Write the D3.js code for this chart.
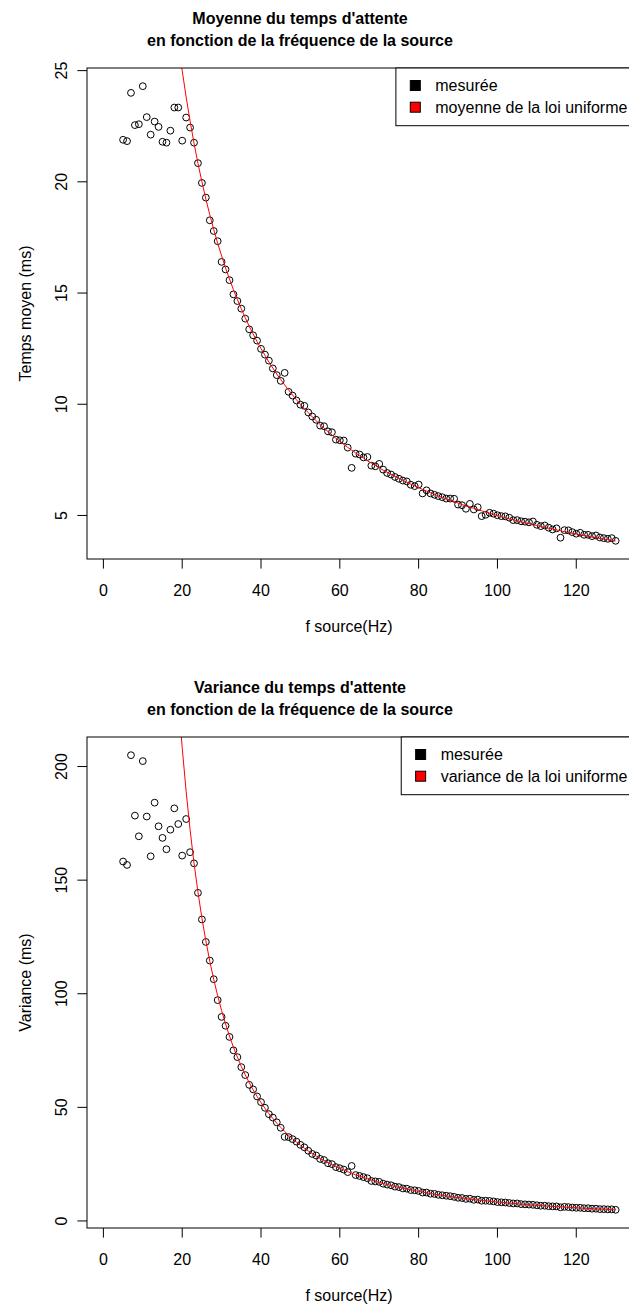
<!DOCTYPE html>
<html>
<head>
<meta charset="utf-8">
<script src="https://cdn.jsdelivr.net/npm/d3@7"></script>
<style>
  body { margin: 0; background: #fff; }
  svg text { font-family: "Liberation Sans", Arial, Helvetica, sans-serif; fill: #000; }
</style>
</head>
<body>
<script>
// fréquences de la source (Hz) : 1..130 pour la courbe théorique, 5..130 pour les mesures
const freqs = [1,2,3,4,5,6,7,8,9,10,11,12,13,14,15,16,17,18,19,20,21,22,23,24,25,26,27,28,29,30,
  31,32,33,34,35,36,37,38,39,40,41,42,43,44,45,46,47,48,49,50,51,52,53,54,55,56,57,58,59,60,
  61,62,63,64,65,66,67,68,69,70,71,72,73,74,75,76,77,78,79,80,81,82,83,84,85,86,87,88,89,90,
  91,92,93,94,95,96,97,98,99,100,101,102,103,104,105,106,107,108,109,110,111,112,113,114,115,
  116,117,118,119,120,121,122,123,124,125,126,127,128,129,130];
const measuredFreqs = freqs.slice(4);

// temps moyen mesuré (ms)
const meanMeasured = [21.89,21.83,24.0,22.55,22.59,24.30,22.91,22.12,22.71,22.47,21.80,21.76,22.30,23.34,23.34,
  21.85,22.89,22.44,21.76,20.84,19.95,19.29,18.27,17.79,17.33,16.40,16.06,15.58,14.94,14.64,14.30,13.85,13.37,
  13.10,12.86,12.49,12.23,11.96,11.61,11.31,11.05,11.41,10.56,10.39,10.17,9.98,9.93,9.63,9.45,9.30,9.04,9.01,
  8.78,8.74,8.41,8.38,8.37,8.05,7.14,7.78,7.74,7.61,7.63,7.24,7.21,7.32,7.06,6.91,6.84,6.73,6.65,6.57,6.53,
  6.38,6.32,6.39,5.99,6.13,5.99,5.93,5.87,5.82,5.76,5.76,5.75,5.49,5.46,5.30,5.52,5.27,5.37,4.97,5.03,5.12,
  5.08,5.01,4.97,4.96,4.90,4.79,4.79,4.74,4.72,4.69,4.73,4.58,4.52,4.55,4.45,4.37,4.42,4.00,4.34,4.33,4.25,
  4.18,4.22,4.13,4.13,4.07,4.10,4.01,3.98,3.95,3.98,3.86];

// moyenne de la loi uniforme (ms)
const meanUniform = [500,250,166.67,125,100,83.33,71.43,62.5,55.56,50,45.45,41.67,38.46,35.71,33.33,31.25,
  29.41,27.78,26.32,25,23.81,22.73,21.74,20.83,20,19.23,18.52,17.86,17.24,16.67,16.13,15.63,15.15,14.71,14.29,
  13.89,13.51,13.16,12.82,12.5,12.2,11.9,11.63,11.36,11.11,10.87,10.64,10.42,10.2,10,9.8,9.62,9.43,9.26,9.09,
  8.93,8.77,8.62,8.47,8.33,8.2,8.06,7.94,7.81,7.69,7.58,7.46,7.35,7.25,7.14,7.04,6.94,6.85,6.76,6.67,6.58,
  6.49,6.41,6.33,6.25,6.17,6.1,6.02,5.95,5.88,5.81,5.75,5.68,5.62,5.56,5.49,5.43,5.38,5.32,5.26,5.21,5.15,
  5.1,5.05,5,4.95,4.9,4.85,4.81,4.76,4.72,4.67,4.63,4.59,4.55,4.5,4.46,4.42,4.39,4.35,4.31,4.27,4.24,4.2,
  4.17,4.13,4.1,4.07,4.03,4,3.97,3.94,3.91,3.88,3.85];

// variance mesurée (ms)
const varMeasured = [158.2,156.7,205.0,178.4,169.3,202.4,178.0,160.5,184.1,173.7,168.6,163.6,172.2,181.6,174.7,
  160.8,176.9,162.3,157.4,144.4,132.7,122.8,114.6,106.4,97.2,89.8,85.9,81.0,75.1,72.1,67.7,64.2,59.9,57.9,54.8,
  52.3,49.8,47.0,45.5,43.4,41.0,37.0,36.9,36.0,34.9,33.5,32.4,30.9,29.5,28.8,27.3,26.8,25.4,25.0,23.7,23.2,
  22.6,21.5,24.2,20.2,19.8,19.3,18.8,17.6,17.4,17.2,16.4,16.0,15.7,15.1,14.9,14.3,14.2,13.6,13.5,13.2,12.5,
  12.5,12.0,11.9,11.5,11.3,11.1,10.9,10.6,10.2,10.1,9.7,9.8,9.3,9.4,8.9,8.9,8.8,8.6,8.3,8.2,8.1,7.9,7.7,7.7,
  7.4,7.3,7.2,7.1,6.9,6.7,6.7,6.5,6.4,6.4,6.0,6.2,6.1,5.9,5.8,5.8,5.6,5.6,5.4,5.4,5.2,5.2,5.1,5.1,4.9];

// variance de la loi uniforme (ms)
const varUniform = [83333,20833,9259,5208,3333,2315,1701,1302,1029,833.3,688.7,578.7,493.1,425.2,370.4,325.5,
  288.4,257.2,230.8,208.3,189.0,172.2,157.5,144.7,133.3,123.3,114.3,106.3,99.1,92.6,86.7,81.4,76.5,72.1,68.0,
  64.3,60.9,57.7,54.8,52.1,49.6,47.2,45.1,43.0,41.2,39.4,37.7,36.2,34.7,33.3,32.0,30.8,29.7,28.6,27.5,26.6,
  25.6,24.8,23.9,23.1,22.4,21.7,21.0,20.3,19.7,19.1,18.6,18.0,17.5,17.0,16.5,16.1,15.6,15.2,14.8,14.4,14.1,
  13.7,13.4,13.0,12.7,12.4,12.1,11.8,11.5,11.3,11.0,10.8,10.5,10.3,10.1,9.8,9.6,9.4,9.2,9.0,8.9,8.7,8.5,8.3,
  8.2,8.0,7.9,7.7,7.6,7.4,7.3,7.1,7.0,6.9,6.8,6.6,6.5,6.4,6.3,6.2,6.1,6.0,5.9,5.8,5.7,5.6,5.5,5.4,5.3,5.2,
  5.2,5.1,5.0,4.9];

const xTicks = [0, 20, 40, 60, 80, 100, 120];
const meanTicks = [5, 10, 15, 20, 25];
const varTicks = [0, 50, 100, 150, 200];

const width = 629, height = 1309;
const svg = d3.select('body').append('svg')
    .attr('width', width)
    .attr('height', height);

// étendue façon R : +4% de chaque côté
const pad = ext => [ext[0] - 0.04 * (ext[1] - ext[0]), ext[1] + 0.04 * (ext[1] - ext[0])];

const plotLeft = 87, plotRight = 636, plotH = 491;
const x = d3.scaleLinear().domain(pad(d3.extent(freqs))).range([plotLeft, plotRight]);

function drawPanel(cfg, idx) {
    const top = cfg.top, bottom = top + plotH;
    const y = d3.scaleLinear().domain(pad(d3.extent(cfg.measured))).range([bottom, top]);
    const g = svg.append('g');

    const clipId = 'clip' + idx;
    g.append('clipPath').attr('id', clipId)
      .append('rect').attr('x', plotLeft).attr('y', top)
      .attr('width', plotRight - plotLeft).attr('height', plotH);

    // titre
    cfg.title.forEach((t, i) => {
        g.append('text')
            .attr('x', 300).attr('y', top - 44 + i * 21.7)
            .attr('text-anchor', 'middle')
            .style('font-weight', 'bold').style('font-size', '16px')
            .text(t);
    });

    // axe x
    const xAxis = g.append('g');
    xTicks.forEach(t => {
        xAxis.append('line')
            .attr('x1', x(t)).attr('x2', x(t))
            .attr('y1', bottom).attr('y2', bottom + 9.6)
            .attr('stroke', '#000');
        xAxis.append('text')
            .attr('x', x(t)).attr('y', bottom + 36.7)
            .attr('text-anchor', 'middle').style('font-size', '16px')
            .text(t);
    });
    g.append('text')
        .attr('x', 349).attr('y', bottom + 73)
        .attr('text-anchor', 'middle').style('font-size', '16px')
        .text('f source(Hz)');

    // axe y
    const yAxis = g.append('g');
    cfg.yTicks.forEach(t => {
        yAxis.append('line')
            .attr('x1', plotLeft - 9.6).attr('x2', plotLeft)
            .attr('y1', y(t)).attr('y2', y(t))
            .attr('stroke', '#000');
        yAxis.append('text')
            .attr('transform', `translate(67,${y(t)}) rotate(-90)`)
            .attr('text-anchor', 'middle').style('font-size', '16px')
            .text(t);
    });
    g.append('text')
        .attr('transform', `translate(31,${(top + bottom) / 2}) rotate(-90)`)
        .attr('text-anchor', 'middle').style('font-size', '16px')
        .text(cfg.ylabel);

    // points mesurés
    g.append('g').attr('clip-path', `url(#${clipId})`)
        .selectAll('circle')
        .data(measuredFreqs.map((f, i) => [f, cfg.measured[i]]))
        .enter().append('circle')
        .attr('cx', d => x(d[0]))
        .attr('cy', d => y(d[1]))
        .attr('r', 3.4)
        .attr('fill', 'none')
        .attr('stroke', '#000')
        .attr('stroke-width', 1);

    // courbe théorique
    g.append('path')
        .datum(freqs.map((f, i) => [f, cfg.theory[i]]))
        .attr('clip-path', `url(#${clipId})`)
        .attr('fill', 'none')
        .attr('stroke', '#ff0000')
        .attr('stroke-width', 1)
        .attr('d', d3.line().x(d => x(d[0])).y(d => y(d[1])));

    // cadre
    g.append('rect')
        .attr('x', plotLeft).attr('y', top)
        .attr('width', plotRight - plotLeft).attr('height', plotH)
        .attr('fill', 'none').attr('stroke', '#000').attr('stroke-width', 1);

    // légende (en haut à droite)
    const leg = g.append('g');
    const labels = leg.selectAll('text.leg')
        .data(cfg.legend)
        .enter().append('text')
        .attr('class', 'leg')
        .style('font-size', '16px')
        .attr('dominant-baseline', 'central')
        .text(d => d.label);
    const textW = d3.max(labels.nodes(), n => n.getComputedTextLength());
    const legLeft = plotRight - (textW + 48);
    labels.attr('x', legLeft + 39.4).attr('y', (d, i) => top + 17.5 + i * 21.7);
    leg.insert('rect', 'text')
        .attr('x', legLeft).attr('y', top)
        .attr('width', plotRight - legLeft).attr('height', 57.7)
        .attr('fill', '#fff').attr('stroke', '#000').attr('stroke-width', 1);
    leg.selectAll('rect.sw')
        .data(cfg.legend)
        .enter().append('rect')
        .attr('class', 'sw')
        .attr('x', legLeft + 14.4).attr('y', (d, i) => top + 12.5 + i * 21.7)
        .attr('width', 10).attr('height', 10)
        .attr('fill', d => d.color)
        .attr('stroke', '#000').attr('stroke-width', 1);
}

const panels = [
    {
        top: 68,
        title: ["Moyenne du temps d'attente", "en fonction de la fréquence de la source"],
        ylabel: 'Temps moyen (ms)',
        yTicks: meanTicks,
        measured: meanMeasured,
        theory: meanUniform,
        legend: [{ label: 'mesurée', color: '#000' }, { label: 'moyenne de la loi uniforme', color: '#ff0000' }]
    },
    {
        top: 737,
        title: ["Variance du temps d'attente", "en fonction de la fréquence de la source"],
        ylabel: 'Variance (ms)',
        yTicks: varTicks,
        measured: varMeasured,
        theory: varUniform,
        legend: [{ label: 'mesurée', color: '#000' }, { label: 'variance de la loi uniforme', color: '#ff0000' }]
    }
];

panels.forEach(drawPanel);
</script>
</body>
</html>
